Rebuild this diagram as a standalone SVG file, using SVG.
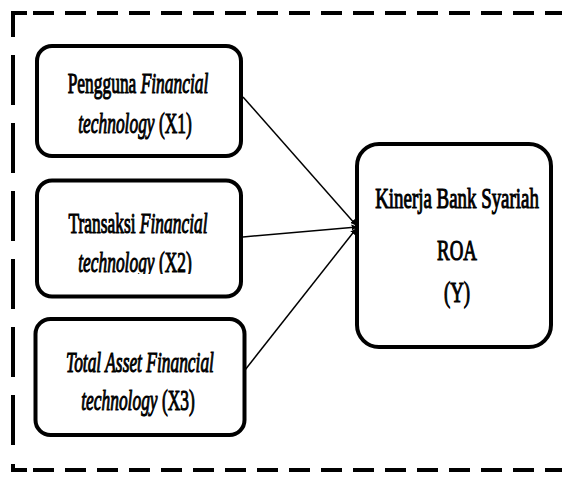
<svg xmlns="http://www.w3.org/2000/svg" width="562" height="477" viewBox="0 0 562 477">
<style>
.frame{fill:none;stroke:#000;stroke-width:4}
.box{fill:#fff;stroke:#000;stroke-width:4}
.t{font-family:'Liberation Serif','Times New Roman','DejaVu Serif',serif;font-size:30px;fill:#000;stroke:#000;stroke-width:1.1;text-anchor:middle}
.i{font-style:italic}
.conn{stroke:#000;stroke-width:1.5;fill:none}
</style>
<defs>
<marker id="ah" viewBox="0 0 10 10" refX="9" refY="5" markerWidth="6" markerHeight="6" orient="auto" markerUnits="userSpaceOnUse">
<path d="M0,0 L10,5 L0,10 z" fill="#000"/>
</marker>
<clipPath id="clipX2"><rect x="30" y="240" width="220" height="34"/></clipPath>
</defs>
<rect width="562" height="477" fill="#fff"/>
<g id="frame">
<path class="frame" d="M13,37 V13 H27"/>
<path class="frame" d="M33,13 H562" stroke-dasharray="21 11"/>
<path class="frame" d="M13,55 V447" stroke-width="3.5" stroke-dasharray="50 18"/>
<path class="frame" d="M13,464 V470 H27"/>
<path class="frame" d="M33,470 H562" stroke-dasharray="21 11"/>
</g>
<g id="connectors">
<path class="conn" d="M243,97 L356,225" marker-end="url(#ah)"/>
<path class="conn" d="M243,237 L357,227" marker-end="url(#ah)"/>
<path class="conn" d="M245,370 L356,229" marker-end="url(#ah)"/>
</g>
<g id="x1">
<rect class="box" x="37" y="46" width="204" height="110" rx="15"/>
<text class="t" transform="translate(138,93) scale(0.58,1)">Pengguna <tspan class="i">Financial</tspan></text>
<text class="t" transform="translate(135,133) scale(0.58,1)"><tspan class="i">technology</tspan> (X1)</text>
</g>
<g id="x2">
<rect class="box" x="37" y="180.5" width="204" height="116" rx="15"/>
<text class="t" transform="translate(138,233) scale(0.58,1)">Transaksi <tspan class="i">Financial</tspan></text>
<g clip-path="url(#clipX2)">
<text class="t" transform="translate(135,272) scale(0.58,1)"><tspan class="i">technology</tspan> (X2)</text>
</g>
</g>
<g id="x3">
<rect class="box" x="35.5" y="319" width="209" height="116" rx="15"/>
<text class="t i" transform="translate(140,372) scale(0.58,1)">Total Asset Financial</text>
<text class="t" transform="translate(138,410) scale(0.58,1)"><tspan class="i">technology</tspan> (X3)</text>
</g>
<g id="y">
<rect class="box" x="357" y="144" width="194" height="203" rx="22"/>
<text class="t" transform="translate(457,208) scale(0.63,1)">Kinerja Bank Syariah</text>
<text class="t" transform="translate(457,260) scale(0.63,1)">ROA</text>
<text class="t" transform="translate(457,302) scale(0.63,1)">(Y)</text>
</g>
</svg>
